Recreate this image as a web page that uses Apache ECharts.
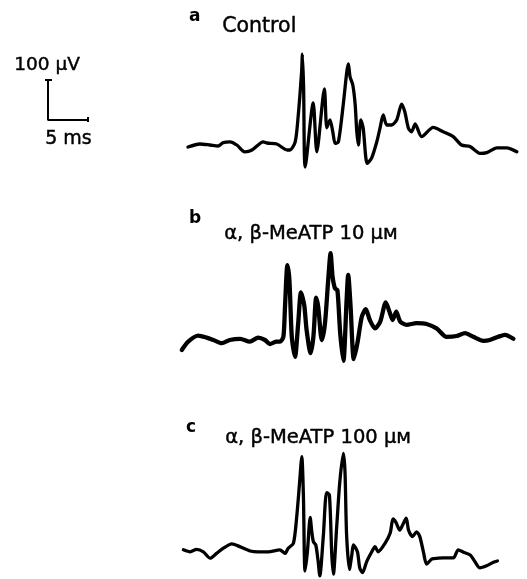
<!DOCTYPE html>
<html>
<head>
<meta charset="utf-8">
<script src="https://cdn.jsdelivr.net/npm/echarts@6/dist/echarts.min.js"></script>
<style>
  html, body { margin: 0; padding: 0; background: #fff; }
  #main { width: 527px; height: 579px; }
</style>
</head>
<body>
<div id="main"></div>
<script>
// traces: [time (ms), voltage (uV)]
var controlTrace = [
  [0, 0], [1.5, 7.5], [2.75, 5], [3.75, 2.5], [4.4, 11], [5.25, 13], [6.1, 5], [7.1, -12],
  [8.0, -7.5], [9.4, 13], [9.9, 10], [11.1, 7.5], [12.4, -7.5], [12.75, -7.5], [13.4, 13],
  [13.75, 72], [14.2, 188], [14.3, 232], [14.45, 150], [14.65, -50], [15.65, 110], [16.1, -12],
  [17.05, 145], [17.35, 48], [17.75, 68], [18.1, 38], [18.4, 9], [18.8, 13], [19.4, 105],
  [19.85, 188], [20.05, 208], [20.25, 176], [20.6, 155], [20.9, 105], [21.1, 38], [21.3, 5],
  [21.6, 68], [21.9, 47], [22.4, -41], [22.95, -28], [23.6, 13], [24.0, 47], [24.4, 80],
  [24.85, 55], [25.45, 55], [26.1, 68], [26.7, 107], [27.1, 88], [27.55, 47], [27.95, 38],
  [28.4, 58], [29.2, 26], [30.65, 49], [31.9, 38], [33.15, 26], [34.2, 5], [35.25, 1],
  [36.5, -16], [37.35, -14], [38.6, -2], [39.85, -2], [41.1, -12]
];
var meatp10Trace = [
  [0.1, -20], [0.9, 1], [2.15, 16], [3.2, 11], [4.05, 5], [5.1, -3], [6.1, 5], [7.4, 8],
  [8.6, 1], [9.65, 11], [10.5, 5], [11.1, -5], [11.95, 1], [12.4, 1], [12.8, 13], [13.0, 88],
  [13.3, 192], [13.55, 155], [13.85, 13], [14.25, -37], [14.65, 47], [15.0, 124], [15.4, 93],
  [15.7, 30], [16.2, -28], [16.55, 13], [16.9, 111], [17.15, 88], [17.6, 5], [18.0, 47],
  [18.4, 155], [18.7, 222], [18.95, 163], [19.25, 134], [19.55, 130], [19.9, 22], [20.3, -47],
  [20.7, 105], [20.9, 168], [21.2, 88], [21.6, -43], [22.05, -3], [22.6, 63], [23.1, 82],
  [23.6, 55], [24.25, 34], [24.9, 51], [25.6, 99], [26.05, 76], [26.45, 55], [26.9, 76],
  [27.4, 51], [28.2, 43], [29.45, 47], [30.7, 45], [31.95, 34], [33.2, 13], [34.45, 15],
  [35.5, 22], [36.55, 13], [37.8, 3], [38.6, 5], [39.65, 13], [40.5, 18], [41.55, 8]
];
var meatp100Trace = [
  [0.05, 3], [0.9, -2], [1.7, 4], [2.55, -2], [3.4, -18], [4.2, -6], [5.05, 7], [6.1, 18],
  [7.1, 11], [8.4, 0], [9.4, -2], [10.65, -2], [12.1, 3], [12.75, -6], [13.15, 7], [13.8, 19],
  [14.2, 82], [14.55, 165], [14.85, 236], [15.05, 140], [15.25, -50], [15.55, -2], [15.9, 84],
  [16.1, 48], [16.3, 23], [16.6, 15], [16.9, -27], [17.1, -62], [17.55, 40], [17.95, 146],
  [18.3, 140], [18.6, -10], [18.8, -58], [19.2, 57], [19.6, 173], [20.05, 244], [20.25, 198],
  [20.45, 40], [20.8, -46], [21.1, -10], [21.3, 15], [21.8, -2], [22.1, -43], [22.45, -54],
  [22.95, -27], [23.6, -2], [24.0, 11], [24.4, -2], [25.25, 19], [25.9, 45], [26.25, 80],
  [26.6, 72], [27.1, 52], [27.5, 67], [27.9, 82], [28.2, 52], [28.7, 36], [29.2, 48],
  [29.6, 36], [30.05, -2], [30.45, -33], [31.1, -20], [31.9, -18], [32.55, -17], [33.8, -17],
  [34.4, 3], [35.05, -3], [35.9, -10], [36.5, -27], [37.1, -42], [37.95, -37], [38.8, -28],
  [39.3, -25]
];
// scale bar: 100 uV / 5 ms
var scaleBar = [[0, 100], [0, 0], [5, 0]];

var panelLetters = ['a', 'b', 'c'];
var panelNames = ['Control', 'α, β-MeATP 10 μᴍ', 'α, β-MeATP 100 μᴍ'];

var myChart = echarts.init(document.getElementById('main'));

var FONT = '"DejaVu Sans", sans-serif';

function hiddenAxis(idx, min, max) {
  return { type: 'value', gridIndex: idx, min: min, max: max, show: false, splitLine: { show: false } };
}
function traceSeries(idx, data, w) {
  return {
    type: 'line', xAxisIndex: idx, yAxisIndex: idx, data: data,
    showSymbol: false, smooth: 0.25, clip: false, animation: false,
    lineStyle: { color: '#000', width: w, cap: 'round', join: 'round' }
  };
}
function label(x, y, text, size, bold) {
  return {
    type: 'text', left: x, top: y,
    style: {
      text: text, font: (bold ? 'bold ' : '') + size + 'px ' + FONT, fill: '#000',
      stroke: '#000', lineWidth: bold ? 0 : 0.45
    }
  };
}

var option = {
  backgroundColor: '#fff',
  grid: [
    { left: 188, top: 47, width: 336, height: 128 },
    { left: 181, top: 242, width: 336, height: 128 },
    { left: 183, top: 451, width: 336, height: 128 },
    { left: 48, top: 80, width: 40, height: 40 }
  ],
  xAxis: [hiddenAxis(0, 0, 42), hiddenAxis(1, 0, 42), hiddenAxis(2, 0, 42), hiddenAxis(3, 0, 5)],
  yAxis: [hiddenAxis(0, -70, 250), hiddenAxis(1, -70, 250), hiddenAxis(2, -70, 250), hiddenAxis(3, 0, 100)],
  series: [
    traceSeries(0, controlTrace, 3.3),
    traceSeries(1, meatp10Trace, 4.3),
    traceSeries(2, meatp100Trace, 3.3),
    {
      type: 'line', xAxisIndex: 3, yAxisIndex: 3, data: scaleBar,
      showSymbol: false, clip: false, animation: false,
      lineStyle: { color: '#000', width: 2 }
    }
  ],
  graphic: [
    label(14, 55, '100 μV', 18.5, false),
    label(45, 129, '5 ms', 19, false),
    { type: 'rect', left: 45, top: 79, shape: { width: 7, height: 2 }, style: { fill: '#000' } },
    { type: 'rect', left: 87, top: 117, shape: { width: 2, height: 5 }, style: { fill: '#000' } },
    label(189, 8, panelLetters[0], 17, true),
    label(222, 16, panelNames[0], 20.5, false),
    label(189, 210, panelLetters[1], 17, true),
    label(224, 224, panelNames[1], 19.5, false),
    label(186, 419, panelLetters[2], 17, true),
    label(225, 428, panelNames[2], 19.5, false)
  ]
};
myChart.setOption(option);
</script>
</body>
</html>
